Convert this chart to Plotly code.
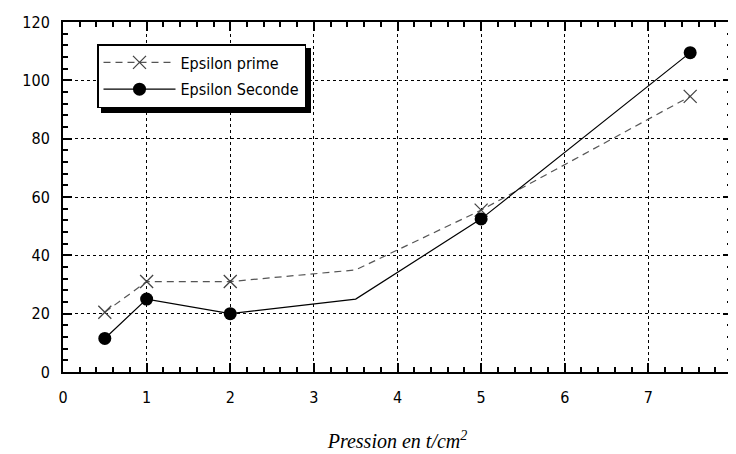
import plotly.graph_objects as go

# pressure (t/cm2) and values
pression = [0.5, 1, 2, 3.5, 5, 7.5]
eps_prime = [20.5, 31, 31, 35, 55.5, 94.5]
eps_seconde = [11.5, 25, 20, 25, 52.5, 109.5]
# points that carry a marker (the 3.5 bend has none)
marked = [True, True, True, False, True, True]

x_ticks = [0, 1, 2, 3, 4, 5, 6, 7, 8]
y_ticks = [0, 20, 40, 60, 80, 100, 120]

px_m = [x for x, m in zip(pression, marked) if m]
prime_m = [y for y, m in zip(eps_prime, marked) if m]
sec_m = [y for y, m in zip(eps_seconde, marked) if m]

prime_line = dict(color='#555555', width=1.2, dash='7px,5px')
prime_marker = dict(symbol='x-thin-open', size=13, color='#444444',
                    line=dict(color='#444444', width=1.3))
sec_line = dict(color='black', width=1.2)
sec_marker = dict(symbol='circle', size=13, color='black')

fig = go.Figure()

# lines
fig.add_trace(go.Scatter(x=pression, y=eps_prime, mode='lines',
                         showlegend=False, line=prime_line))
fig.add_trace(go.Scatter(x=pression, y=eps_seconde, mode='lines',
                         showlegend=False, line=sec_line))
# markers
fig.add_trace(go.Scatter(x=px_m, y=prime_m, mode='markers',
                         showlegend=False, marker=prime_marker))
fig.add_trace(go.Scatter(x=px_m, y=sec_m, mode='markers',
                         showlegend=False, marker=sec_marker))
# legend entries
fig.add_trace(go.Scatter(x=[None], y=[None], mode='lines+markers',
                         name='Epsilon prime', line=prime_line,
                         marker=prime_marker, legendgroup='a'))
fig.add_trace(go.Scatter(x=[None], y=[None], mode='lines+markers',
                         name='Epsilon Seconde', line=sec_line,
                         marker=sec_marker, legendgroup='b'))

tick_font = dict(family='DejaVu Sans Condensed, Liberation Sans Narrow, Arial',
                 size=16, color='black')

fig.update_xaxes(
    range=[0, 8], tickvals=x_ticks, ticks='inside', ticklen=9, tickwidth=1.5,
    tickcolor='black', showline=True, linecolor='black', linewidth=2,
    mirror='allticks', showgrid=True, gridcolor='black', griddash='dot',
    gridwidth=1, zeroline=False, tickfont=tick_font, ticklabelstandoff=10,
    automargin=False,
    minor=dict(dtick=0.2, ticks='inside', ticklen=5, tickwidth=1.5,
               tickcolor='black', showgrid=False),
    title=dict(text='<i>Pression en t/cm<sup>2</sup></i>',
               font=dict(family='Liberation Serif, Times New Roman, serif',
                         size=20, color='black'),
               standoff=28)
)
fig.update_yaxes(
    range=[0, 120], tickvals=y_ticks, ticks='inside', ticklen=9, tickwidth=1.5,
    tickcolor='black', showline=True, linecolor='black', linewidth=2,
    mirror='allticks', showgrid=True, gridcolor='black', griddash='dot',
    gridwidth=1, zeroline=False, tickfont=tick_font, ticklabelstandoff=8,
    automargin=False,
    minor=dict(dtick=4, ticks='inside', ticklen=5, tickwidth=1.5,
               tickcolor='black', showgrid=False)
)

# legend shadow (offset 4px right / down from the legend box)
fig.add_shape(type='rect', xref='paper', yref='paper',
              x0=(101 - 63) / 669, x1=(311 - 63) / 669,
              y0=(372 - 113) / 350, y1=(372 - 48) / 350,
              fillcolor='black', line=dict(width=0), layer='above')

# page body has an 8px margin, so the figure is sized to fit the window
fig.update_layout(
    width=728, height=446,
    margin=dict(l=55, r=4, t=14, b=82, autoexpand=False),
    paper_bgcolor='white', plot_bgcolor='white',
    legend=dict(
        x=(97 - 63) / 669, y=(372 - 44) / 350, xanchor='left', yanchor='top',
        bgcolor='white', bordercolor='black', borderwidth=1.5,
        font=dict(family='DejaVu Sans Condensed, Liberation Sans Narrow, Arial',
                  size=16, color='black'),
        itemwidth=72, tracegroupgap=3
    )
)

fig.write_html("out.html")
